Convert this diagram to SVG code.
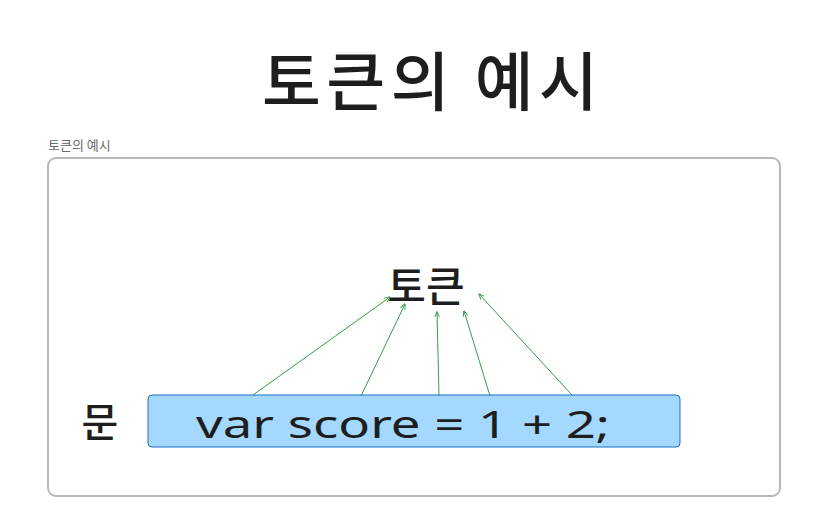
<svg xmlns="http://www.w3.org/2000/svg" width="820" height="522" viewBox="0 0 820 522">
<style>
.ko{font-family:"Noto Sans CJK KR","Noto Sans",sans-serif;fill:#1e1e1e}
.code{font-family:"Noto Sans","Liberation Sans",sans-serif;fill:#1e1e1e}
.arrow{stroke:#2f9e44;stroke-width:1;fill:none;marker-end:url(#ah)}
</style>
<defs>
<marker id="ah" viewBox="0 0 10 10" refX="9" refY="5" markerWidth="6" markerHeight="6" orient="auto" markerUnits="userSpaceOnUse">
<path d="M0,1 L10,5 L0,9" fill="none" stroke="#2f9e44" stroke-width="1.5"/>
</marker>
</defs>
<rect width="820" height="522" fill="#ffffff"/>
<g id="title"><text class="ko" x="430" y="105" font-size="64" font-weight="500" text-anchor="middle" textLength="336" lengthAdjust="spacing">토큰의 예시</text></g>
<g id="frame">
<text x="48" y="150" font-family="'Noto Sans CJK KR','Noto Sans',sans-serif" font-size="13" fill="#6b6b6b">토큰의 예시</text>
<rect x="48" y="158" width="732" height="338" rx="8" fill="none" stroke="#b8b8b8" stroke-width="2"/>
</g>
<g id="token"><text class="ko" x="426" y="302" font-size="42" font-weight="500" text-anchor="middle">토큰</text></g>
<g id="sentence-label"><text class="ko" x="100" y="437" font-size="40" font-weight="500" text-anchor="middle">문</text></g>
<g id="sentence">
<rect x="148" y="395" width="532" height="52" rx="4" fill="#a5d8ff" stroke="#1971c2" stroke-width="1"/>
<text class="code" x="403" y="438" font-size="38" text-anchor="middle" textLength="414" lengthAdjust="spacingAndGlyphs">var score = 1 + 2;</text>
</g>
<g id="connectors">
<line class="arrow" x1="253" y1="395" x2="390" y2="297"/>
<line class="arrow" x1="361" y1="396" x2="405" y2="304"/>
<line class="arrow" x1="439" y1="396" x2="437" y2="312"/>
<line class="arrow" x1="490" y1="396" x2="464" y2="311"/>
<line class="arrow" x1="572" y1="395" x2="479" y2="294"/>
</g>
</svg>
